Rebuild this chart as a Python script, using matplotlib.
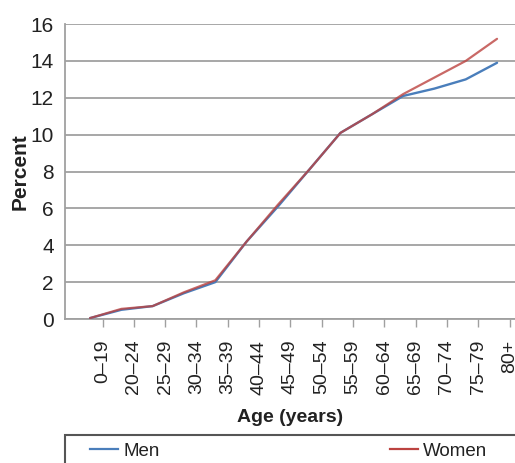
import matplotlib
matplotlib.use("Agg")
import matplotlib.pyplot as plt
from matplotlib import font_manager
from matplotlib.patches import Rectangle
from matplotlib.lines import Line2D
import numpy as np

# ---- data ----
age_groups = ["0–19", "20–24", "25–29", "30–34", "35–39", "40–44", "45–49",
              "50–54", "55–59", "60–64", "65–69", "70–74", "75–79", "80+"]
men = [0.05, 0.5, 0.7, 1.4, 2.0, 4.2, 6.1, 8.1, 10.1, 11.1, 12.1, 12.5, 13.0, 13.9]
women = [0.05, 0.55, 0.7, 1.45, 2.1, 4.2, 6.2, 8.1, 10.1, 11.1, 12.2, 13.1, 14.0, 15.2]
y_ticks = [0, 2, 4, 6, 8, 10, 12, 14, 16]
series_names = ["Men", "Women"]

# ---- style ----
names = {f.name for f in font_manager.fontManager.ttflist}
REG = "Liberation Sans" if "Liberation Sans" in names else "DejaVu Sans"
NAR = "Liberation Sans Narrow" if "Liberation Sans Narrow" in names else REG
TXT = "#222222"
GRID = "#a0a0a0"
MEN_C = "#4a7ebb"
WOMEN_C = "#bc4340"

fig = plt.figure(figsize=(5.15, 4.63), dpi=100)
ax = fig.add_axes([65 / 515, 0.311, (544 - 65) / 515, 0.637])

x = np.arange(len(age_groups))
ax.plot(x, men, color=MEN_C, lw=1.7, solid_capstyle="round", zorder=3)
ax.plot(x, women, color=WOMEN_C, lw=1.6, alpha=0.8, solid_capstyle="round", zorder=4)

ax.set_xlim(-0.8, 14.5)
ax.set_ylim(0, 16)
ax.set_yticks(y_ticks)
ax.set_yticklabels([str(v) for v in y_ticks], fontfamily=NAR, fontsize=15, color=TXT)
ax.set_xticks(x + 0.4)
ax.set_xticklabels(age_groups, rotation=90, fontfamily=REG, fontsize=14, color=TXT,
                   ha="center", va="top")

ax.yaxis.grid(True, color=GRID, lw=1.3)
ax.set_axisbelow(True)
for s in ["top", "right"]:
    ax.spines[s].set_visible(False)
for s in ["left", "bottom"]:
    ax.spines[s].set_color(GRID)
    ax.spines[s].set_linewidth(1.3)
ax.tick_params(axis="y", length=0, pad=8)
ax.tick_params(axis="x", length=6, width=1.0, color=GRID, pad=9)

fig.text(290 / 515, 1 - 417 / 463, "Age (years)", fontfamily=REG, fontweight="bold",
         fontsize=14, color=TXT, ha="center", va="center")
fig.text(20 / 515, 1 - 172 / 463, "Percent", fontfamily=REG, fontweight="bold",
         fontsize=15, color=TXT, ha="center", va="center", rotation=90)

# legend box (extends past the right/bottom edge as in the reference)
fig.patches.append(Rectangle((65 / 515, -0.05), 0.95, 0.05 + (463 - 435) / 463,
                             transform=fig.transFigure, fill=False,
                             edgecolor="#555555", lw=1.5))
handles = [Line2D([], [], color=MEN_C, lw=1.6), Line2D([], [], color=WOMEN_C, lw=1.6)]
fig.legend(handles, series_names, loc="center left",
           bbox_to_anchor=(90 / 515, 1 - 451 / 463), frameon=False, ncol=2,
           borderpad=0, borderaxespad=0, handlelength=1.5, handletextpad=0.27,
           columnspacing=12.3, prop={"family": REG, "size": 13.5},
           labelcolor=TXT)

fig.savefig("out.png", dpi=100)
